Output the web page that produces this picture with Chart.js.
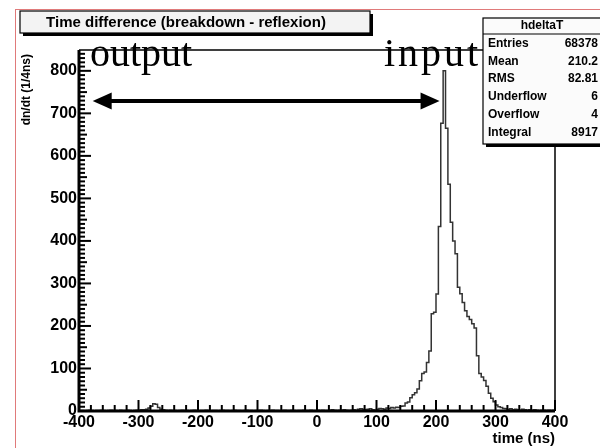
<!DOCTYPE html>
<html><head><meta charset="utf-8">
<script src="https://cdn.jsdelivr.net/npm/chart.js@4.4.1/dist/chart.umd.min.js"></script>
<style>html,body{margin:0;padding:0;background:#fff;}canvas{display:block;}</style>
</head><body>
<canvas id="c" width="600" height="448"></canvas>
<script>
// ---- data ----
const binLow = -400;
const binWidth = 4;
const counts = [
  0,1,0,1,2,1,0,1,1,2,1,0,1,2,1,1,0,2,1,1,
  2,1,0,1,2,2,3,3,4,7,11,17,16,8,4,3,2,1,2,1,
  1,0,1,2,1,1,0,1,2,1,0,1,1,2,1,0,1,1,0,1,
  2,1,1,0,1,2,1,1,0,1,2,1,1,0,1,1,2,1,0,1,
  1,2,1,1,0,1,2,1,1,2,1,0,1,1,2,1,1,2,1,1,
  2,1,2,1,1,2,3,2,1,2,2,3,2,1,2,3,2,4,5,4,
  3,4,5,3,2,4,6,5,4,7,6,8,7,9,8,11,12,19,21,31,
  38,43,52,71,88,92,114,141,229,232,275,434,677,800,665,533,444,400,370,291,
  276,255,236,222,215,205,195,130,88,80,72,58,42,30,22,14,10,8,6,5,
  4,5,3,4,3,2,4,3,2,3,2,3,2,1,2,2,1,2,1,2
];
const xTickValues = [-400,-300,-200,-100,0,100,200,300,400];
const yTickValues = [0,100,200,300,400,500,600,700,800];
const xRange = [-400, 400];
const yRange = [0, 849];
const titleText = 'Time difference (breakdown - reflexion)';
const statsName = 'hdeltaT';
const statsLabels = ['Entries','Mean','RMS','Underflow','Overflow','Integral'];
const statsValues = ['68378','210.2','82.81','6','4','8917'];
const xTitle = 'time (ns)';
const yTitle = 'dn/dt (1/4ns)';
const outputLabel = 'output';
const inputLabel = 'input';
const arrowFrom = -377;   // ns
const arrowTo = 206;      // ns
const arrowLevel = 729;   // counts

// ---- build ----
const points = [{x: binLow, y: 0}];
counts.forEach((c, i) => points.push({x: binLow + i * binWidth, y: c}));
points.push({x: binLow + counts.length * binWidth, y: 0});

const SANS = '"Liberation Sans", Arial, Helvetica, sans-serif';
const SERIF = '"Liberation Serif", "Times New Roman", serif';

const decor = {
  id: 'decor',
  beforeDraw(chart) {
    const ctx = chart.ctx;
    ctx.save();
    ctx.fillStyle = '#fff';
    ctx.fillRect(0, 0, chart.width, chart.height);
    ctx.strokeStyle = '#e07a7a';
    ctx.lineWidth = 1;
    ctx.strokeRect(15.5, 9.5, 700, 700);
    ctx.restore();
  },
  afterDatasetsDraw(chart) {
    const ctx = chart.ctx, a = chart.chartArea;
    const xs = chart.scales.x, ys = chart.scales.y;
    ctx.save();
    ctx.strokeStyle = '#000';
    ctx.lineWidth = 1.5;
    ctx.beginPath();
    ctx.moveTo(a.left, a.top); ctx.lineTo(a.right, a.top); ctx.lineTo(a.right, a.bottom);
    ctx.stroke();
    ctx.lineWidth = 2;
    for (let v = xRange[0]; v <= xRange[1]; v += 20) {
      const px = xs.getPixelForValue(v);
      const len = (v % 100 === 0) ? 11 : 6;
      ctx.beginPath(); ctx.moveTo(px, a.bottom); ctx.lineTo(px, a.bottom - len); ctx.stroke();
    }
    for (let v = 0; v <= yRange[1]; v += 10) {
      const py = ys.getPixelForValue(v);
      const len = (v % 100 === 0) ? 12 : (v % 50 === 0 ? 8 : 6);
      ctx.beginPath(); ctx.moveTo(a.left, py); ctx.lineTo(a.left + len, py); ctx.stroke();
    }
    ctx.lineWidth = 3;
    ctx.beginPath();
    ctx.moveTo(a.left, a.top); ctx.lineTo(a.left, a.bottom); ctx.lineTo(a.right, a.bottom);
    ctx.stroke();
    ctx.restore();
  },
  afterDraw(chart) {
    const ctx = chart.ctx, a = chart.chartArea;
    const xs = chart.scales.x, ys = chart.scales.y;
    ctx.save();
    // annotation text (drawn below the boxes)
    ctx.fillStyle = '#000';
    ctx.font = '40px ' + SERIF;
    ctx.textAlign = 'left'; ctx.textBaseline = 'alphabetic';
    ctx.fillText(outputLabel, 90, 66);
    ctx.letterSpacing = '3px';
    ctx.fillText(inputLabel, 384, 66);
    ctx.letterSpacing = '0px';

    // title box
    ctx.fillStyle = '#000';
    ctx.fillRect(23, 14, 350, 22);
    ctx.fillStyle = '#f3f3f3';
    ctx.fillRect(20, 11, 350, 22);
    ctx.strokeStyle = '#000'; ctx.lineWidth = 1.2;
    ctx.strokeRect(20, 11, 350, 22);
    ctx.fillStyle = '#000';
    ctx.font = 'bold 15px ' + SANS;
    ctx.textAlign = 'center'; ctx.textBaseline = 'middle';
    ctx.fillText(titleText, 186, 22.5);

    // stats box
    const bx = 483, by = 18, bw = 130, bh = 126;
    ctx.fillStyle = '#000';
    ctx.fillRect(bx + 3, by + 3, bw, bh);
    ctx.fillStyle = '#fbfbfb';
    ctx.fillRect(bx, by, bw, bh);
    ctx.lineWidth = 1.2;
    ctx.strokeRect(bx, by, bw, bh);
    ctx.beginPath(); ctx.moveTo(bx, 34); ctx.lineTo(bx + bw, 34); ctx.stroke();
    ctx.fillStyle = '#000';
    ctx.font = 'bold 12px ' + SANS;
    ctx.textAlign = 'center';
    ctx.fillText(statsName, 542, 26);
    const rowY = [44, 61.5, 79, 97, 115, 133];
    statsLabels.forEach((l, i) => {
      ctx.textAlign = 'left'; ctx.fillText(l, 488, rowY[i]);
      ctx.textAlign = 'right'; ctx.fillText(statsValues[i], 598, rowY[i]);
    });

    // double arrow
    const x1 = xs.getPixelForValue(arrowFrom), x2 = xs.getPixelForValue(arrowTo);
    const yA = ys.getPixelForValue(arrowLevel);
    const hl = 19, hw = 8.5;
    ctx.lineWidth = 4;
    ctx.beginPath(); ctx.moveTo(x1 + hl - 2, yA); ctx.lineTo(x2 - hl + 2, yA); ctx.stroke();
    ctx.beginPath();
    ctx.moveTo(x1, yA); ctx.lineTo(x1 + hl, yA - hw); ctx.lineTo(x1 + hl, yA + hw); ctx.closePath();
    ctx.fill();
    ctx.beginPath();
    ctx.moveTo(x2, yA); ctx.lineTo(x2 - hl, yA - hw); ctx.lineTo(x2 - hl, yA + hw); ctx.closePath();
    ctx.fill();

    // axis titles
    ctx.font = 'bold 15px ' + SANS;
    ctx.textAlign = 'right'; ctx.textBaseline = 'middle';
    ctx.fillText(xTitle, a.right, 439);
    ctx.save();
    ctx.translate(27, a.top + 4);
    ctx.rotate(-Math.PI / 2);
    ctx.font = 'bold 12px ' + SANS;
    ctx.textAlign = 'right'; ctx.textBaseline = 'middle';
    ctx.fillText(yTitle, 0, 0);
    ctx.restore();
    ctx.restore();
  }
};

const tickFont = {family: SANS, size: 16, weight: 'bold'};

new Chart(document.getElementById('c').getContext('2d'), {
  type: 'line',
  data: {datasets: [{
    data: points, stepped: 'before', borderColor: '#333', borderWidth: 1.5,
    pointRadius: 0, fill: false, tension: 0
  }]},
  options: {
    responsive: false, maintainAspectRatio: false, animation: false,
    layout: {padding: {top: 50, right: 45, left: 0, bottom: 0}},
    plugins: {legend: {display: false}, tooltip: {enabled: false}, title: {display: false}},
    scales: {
      x: {
        type: 'linear', min: xRange[0], max: xRange[1],
        afterFit: s => { s.height = 37; },
        afterBuildTicks: s => { s.ticks = xTickValues.map(v => ({value: v})); },
        grid: {display: false, drawTicks: false}, border: {display: false},
        ticks: {color: '#000', font: tickFont, padding: 2, maxRotation: 0, autoSkip: false}
      },
      y: {
        type: 'linear', min: yRange[0], max: yRange[1],
        afterFit: s => { s.width = 79; },
        afterBuildTicks: s => { s.ticks = yTickValues.map(v => ({value: v})); },
        grid: {display: false, drawTicks: false}, border: {display: false},
        ticks: {color: '#000', font: tickFont, padding: 2, autoSkip: false}
      }
    }
  },
  plugins: [decor]
});
</script>
</body></html>
